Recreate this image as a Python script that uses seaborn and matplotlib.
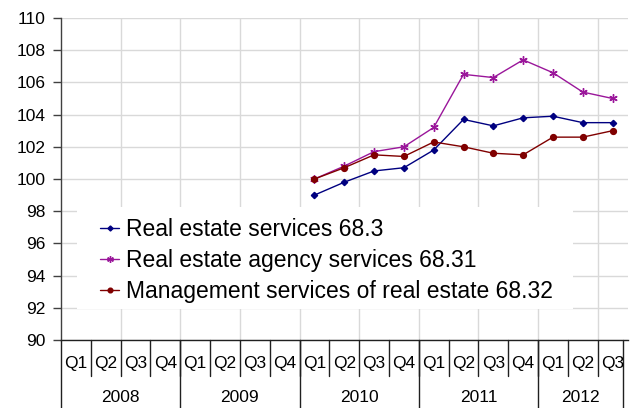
import numpy as np
import pandas as pd
import matplotlib
matplotlib.use("Agg")
import matplotlib.pyplot as plt
import matplotlib.transforms as mtransforms
from matplotlib.patches import Rectangle
import seaborn as sns

years = ["2008", "2009", "2010", "2011", "2012"]
quarters_per_year = [4, 4, 4, 4, 3]
quarter_labels = ["Q1", "Q2", "Q3", "Q4"] * 4 + ["Q1", "Q2", "Q3"]

series_names = ["Real estate services 68.3",
                "Real estate agency services 68.31",
                "Management services of real estate 68.32"]
nan = np.nan
real_estate = [nan] * 8 + [99.0, 99.8, 100.5, 100.7, 101.8, 103.7, 103.3, 103.8, 103.9, 103.5, 103.5]
agency = [nan] * 8 + [100.0, 100.8, 101.7, 102.0, 103.2, 106.5, 106.3, 107.4, 106.6, 105.4, 105.0]
management = [nan] * 8 + [100.0, 100.7, 101.5, 101.4, 102.3, 102.0, 101.6, 101.5, 102.6, 102.6, 103.0]

colors = ["#000080", "#9A169A", "#800000"]
markers = ["D", (6, 2, 0), "o"]
msizes = [3.2, 6, 4.2]

sns.set_theme(style="white")
plt.rcParams['font.family'] = ['Liberation Sans', 'DejaVu Sans']
plt.rcParams['text.color'] = 'black'
plt.rcParams['xtick.labelcolor'] = 'black'
plt.rcParams['ytick.labelcolor'] = 'black'

fig = plt.figure(figsize=(6.31, 4.08), dpi=100)
W, H = 631, 408
left_px, right_px, top_px, bot_px = 61, 627.5, 18, 340
ax = fig.add_axes([left_px / W, (H - bot_px) / H, (right_px - left_px) / W, (bot_px - top_px) / H])

n = len(quarter_labels)
pos = np.arange(n)
for name, vals, c, m, ms in zip(series_names, [real_estate, agency, management], colors, markers, msizes):
    df = pd.DataFrame({"pos": pos, "value": vals})
    sns.lineplot(data=df, x="pos", y="value", ax=ax, color=c, marker=m, markersize=ms,
                 markeredgecolor=c, markerfacecolor=c, markeredgewidth=1.0,
                 linewidth=1.0, label=name, zorder=3)

ax.set_xlim(-0.5, n - 0.5)
ax.set_ylim(90, 110)
ax.set_yticks(np.arange(90, 111, 2))
ax.tick_params(axis="y", labelsize=12.5, length=5.5, width=1, color="#404040", direction="out",
               left=True, pad=5.5, labelcolor="black")
ax.set_xticks(pos)
ax.set_xticklabels([])
ax.tick_params(axis="x", length=0, bottom=False)
ax.set_xticks(np.arange(1.5, n - 1, 2), minor=True)
ax.tick_params(axis="x", which="minor", length=0)
ax.set_xlabel("")
ax.set_ylabel("")

ax.grid(False)
ax.grid(True, axis="y", which="major", color="#d9d9d9", linewidth=1.0)
ax.grid(True, axis="x", which="minor", color="#d9d9d9", linewidth=1.0)
ax.set_axisbelow(True)

for s in ["top", "right"]:
    ax.spines[s].set_visible(False)
ax.spines["left"].set_color("#404040")
ax.spines["left"].set_linewidth(1.0)
ax.spines["bottom"].set_color("#202020")
ax.spines["bottom"].set_linewidth(1.0)

trans = mtransforms.blended_transform_factory(ax.transData, ax.transAxes)
ax_h = bot_px - top_px
q_depth = -36 / ax_h
y_depth = -68 / ax_h
last_sep = n - 0.5 - 4.5 / ((right_px - left_px) / n)

# quarter labels and separators
for i, ql in enumerate(quarter_labels):
    ax.text(i, -23.5 / ax_h, ql, transform=trans, ha="center", va="center", fontsize=12.5)
for b in np.arange(0.5, n - 1, 1):
    ax.plot([b, b], [0, q_depth], transform=trans, color="#202020", lw=1.0, clip_on=False)

# year labels and separators
start = -0.5
bounds = [start]
for k in quarters_per_year:
    start += k
    bounds.append(start)
bounds[-1] = last_sep
for yr, a, b in zip(years, bounds[:-1], bounds[1:]):
    ax.text((a + b) / 2, -57.5 / ax_h, yr, transform=trans, ha="center", va="center", fontsize=12.5)
for b in bounds:
    ax.plot([b, b], [0, y_depth], transform=trans, color="#202020", lw=1.0, clip_on=False)

# white legend background box
bg = Rectangle((77 / W, (H - 309) / H), (573 - 77) / W, (309 - 207) / H,
               transform=fig.transFigure, facecolor="white", edgecolor="none", zorder=1.5)
ax.add_patch(bg)

leg = ax.legend(loc="upper left", bbox_to_anchor=(100 / W, (H - 218) / H),
                bbox_transform=fig.transFigure, fontsize=16.5, frameon=False,
                handlelength=0.85, handletextpad=0.3, labelspacing=0.34,
                borderpad=0, borderaxespad=0, markerscale=0.8)
for h in leg.legend_handles:
    h.set_linewidth(1.0)

fig.savefig("out.png", dpi=100)
